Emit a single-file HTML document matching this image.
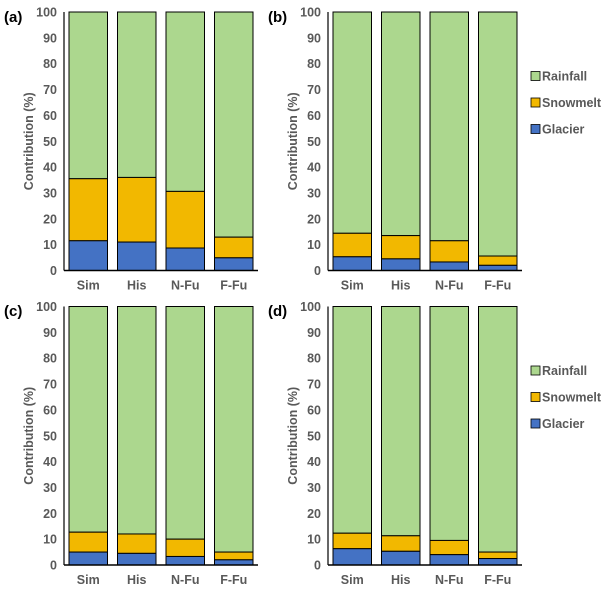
<!DOCTYPE html>
<html><head><meta charset="utf-8"><style>
body{margin:0;background:#fff}
svg{font-family:"Liberation Sans",Arial,sans-serif}
</style></head><body>
<svg id="c" width="604" height="590" viewBox="0 0 604 590" xmlns="http://www.w3.org/2000/svg"></svg>
<script>
const categories=["Sim","His","N-Fu","F-Fu"];
const yTicks=[0,10,20,30,40,50,60,70,80,90,100];
const glacierA=[11.5,11,8.7,4.9];
const snowmeltA=[24,25,21.9,8];
const glacierB=[5.3,4.5,3.3,2.0];
const snowmeltB=[9.1,9,8.2,3.6];
const glacierC=[5.0,4.5,3.3,2.0];
const snowmeltC=[7.7,7.5,6.7,3.0];
const glacierD=[6.3,5.3,4.0,2.5];
const snowmeltD=[6.0,6.0,5.5,2.5];
const panels=[
 {label:"(a)",g:glacierA,s:snowmeltA,x0:64,y0:270.5,legend:false,lx:4,ly:22},
 {label:"(b)",g:glacierB,s:snowmeltB,x0:328,y0:270.5,legend:true,lx:268,ly:22},
 {label:"(c)",g:glacierC,s:snowmeltC,x0:64,y0:565,legend:false,lx:4,ly:316},
 {label:"(d)",g:glacierD,s:snowmeltD,x0:328,y0:565,legend:true,lx:268,ly:316}
];
const svg=document.getElementById('c');
const NS="http://www.w3.org/2000/svg";
function el(t,a,txt){const e=document.createElementNS(NS,t);for(const k in a)e.setAttribute(k,a[k]);if(txt!==undefined)e.textContent=txt;svg.appendChild(e);return e;}
const W=194,H=258.5,C={r:"#acd78e",s:"#f2b800",g:"#4472c4"};
panels.forEach((p,pi)=>{
 const y=v=>p.y0-v/100*H;
 const band=W/categories.length;
 const x=i=>p.x0+i*band+5;
 const bw=band-10;
 let t=el('text',{x:p.lx,y:p.ly,'font-size':15,'font-weight':'bold',fill:'#000'},p.label);
 
 yTicks.forEach(v=>{
  let tt=el('text',{x:p.x0-7,y:y(v)+4.5,'font-size':12.5,'font-weight':'bold',fill:'#595959','text-anchor':'end'},v);
  
 });
 let yt=el('text',{transform:`translate(${p.x0-31},${p.y0-H/2}) rotate(-90)`,'font-size':12.5,'font-weight':'bold',fill:'#595959','text-anchor':'middle'},'Contribution (%)');
 
 categories.forEach((c,i)=>{
  const g=p.g[i],s=p.s[i];
  let r1=el('rect',{x:x(i),y:y(100),width:bw,height:y(g+s)-y(100),fill:C.r,stroke:'#000','stroke-width':1});
  
  let r2=el('rect',{x:x(i),y:y(g+s),width:bw,height:y(g)-y(g+s),fill:C.s,stroke:'#000','stroke-width':1});
  
  let r3=el('rect',{x:x(i),y:y(g),width:bw,height:y(0)-y(g),fill:C.g,stroke:'#000','stroke-width':1});
  
  let xl=el('text',{x:x(i)+bw/2,y:p.y0+19,'font-size':12.5,'font-weight':'bold',fill:'#595959','text-anchor':'middle'},c);
  
 });
 let ax=el('line',{x1:p.x0,y1:y(0),x2:p.x0,y2:y(100),stroke:'#000','stroke-width':1.2});
 
 let bx=el('line',{x1:p.x0,y1:y(0),x2:p.x0+W,y2:y(0),stroke:'#000','stroke-width':1.5});
 
 if(p.legend){
  [["Rainfall",C.r],["Snowmelt",C.s],["Glacier",C.g]].forEach((L,k)=>{
   const ly=p.y0-194+k*26.5;
   let sw=el('rect',{x:531,y:ly-5,width:9,height:9,fill:L[1],stroke:'#000','stroke-width':0.8});
   
   let lt=el('text',{x:542,y:ly+4,'font-size':12.5,'font-weight':'bold',fill:'#595959'},L[0]);
   
  });
 }
});
</script>
</body></html>
